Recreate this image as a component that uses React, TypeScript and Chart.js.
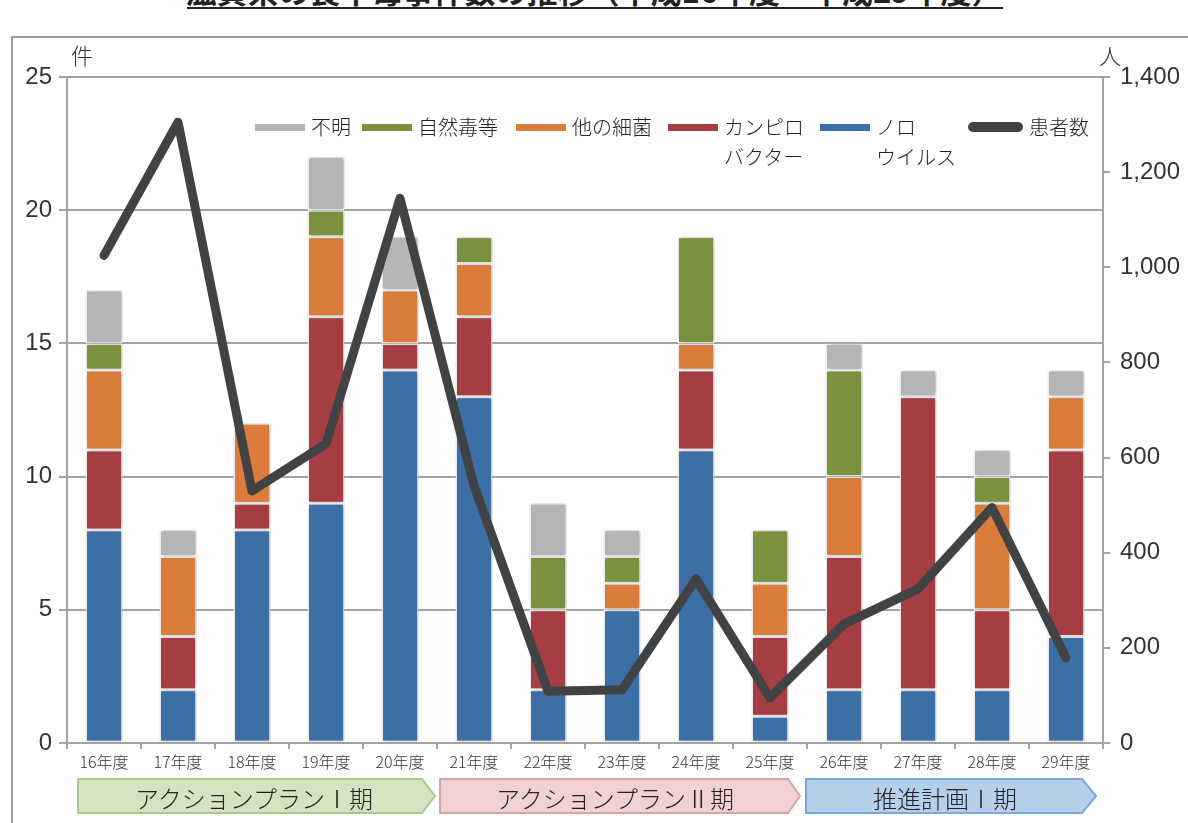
import React, { useEffect, useRef } from "react";
import { Chart, registerables } from "chart.js";

Chart.register(...registerables);

const categories = ["16年度", "17年度", "18年度", "19年度", "20年度", "21年度", "22年度", "23年度", "24年度", "25年度", "26年度", "27年度", "28年度", "29年度"];
const noro = [8, 2, 8, 9, 14, 13, 2, 5, 11, 1, 2, 2, 2, 4];
const campylobacter = [3, 2, 1, 7, 1, 3, 3, 0, 3, 3, 5, 11, 3, 7];
const otherBacteria = [3, 3, 3, 3, 2, 2, 0, 1, 1, 2, 3, 0, 4, 2];
const naturalToxin = [1, 0, 0, 1, 0, 1, 2, 1, 4, 2, 4, 0, 1, 0];
const unknown = [2, 1, 0, 2, 2, 0, 2, 1, 0, 0, 1, 1, 1, 1];
const patients = [1025, 1305, 530, 629, 1145, 541, 109, 112, 345, 95, 250, 324, 495, 179];

const leftTicks = [0, 5, 10, 15, 20, 25];
const rightTicks = [0, 200, 400, 600, 800, 1000, 1200, 1400];

const COLORS = {
  noro: "#3b6fa6",
  campy: "#a43e42",
  other: "#d97c3c",
  natural: "#7a913e",
  unknown: "#b4b5b7",
  line: "#404244",
  grid: "#a3a3a3",
};

const FONT = "'Noto Sans CJK JP', 'Noto Sans', sans-serif";
const NUMFONT = "'Liberation Sans', 'Noto Sans', sans-serif";

const shadowPlugin = {
  id: "barShadow",
  beforeDatasetDraw(chart: any, args: any) {
    if (args.meta.type === "bar") {
      const ctx = chart.ctx;
      ctx.save();
      ctx.shadowColor = "rgba(0,0,0,0.35)";
      ctx.shadowBlur = 4;
      ctx.shadowOffsetX = 1;
      ctx.shadowOffsetY = 0;
    }
  },
  afterDatasetDraw(chart: any, args: any) {
    if (args.meta.type === "bar") chart.ctx.restore();
  },
};

export default function App() {
  const ref = useRef<HTMLCanvasElement>(null);

  useEffect(() => {
    if (!ref.current) return;
    const bar = (label: string, data: number[], color: string) => ({
      type: "bar" as const,
      label,
      data,
      backgroundColor: color,
      borderColor: "#ffffff",
      borderWidth: 1.5,
      borderSkipped: false,
      yAxisID: "y",
      order: 1,
      barPercentage: 0.5,
      categoryPercentage: 1,
    });
    const chart = new Chart(ref.current, {
      type: "bar",
      data: {
        labels: categories,
        datasets: [
          {
            type: "line",
            label: "患者数",
            data: patients,
            yAxisID: "y1",
            borderColor: COLORS.line,
            backgroundColor: COLORS.line,
            borderWidth: 9,
            pointRadius: 0,
            borderCapStyle: "round",
            borderJoinStyle: "round",
            tension: 0,
            order: 0,
          } as any,
          bar("ノロウイルス", noro, COLORS.noro),
          bar("カンピロバクター", campylobacter, COLORS.campy),
          bar("他の細菌", otherBacteria, COLORS.other),
          bar("自然毒等", naturalToxin, COLORS.natural),
          bar("不明", unknown, COLORS.unknown),
        ],
      },
      options: {
        responsive: false,
        animation: false,
        devicePixelRatio: 1,
        layout: { padding: { top: 77, left: 0, right: 0, bottom: 0 } },
        plugins: { legend: { display: false }, tooltip: { enabled: false }, title: { display: false } },
        scales: {
          x: {
            stacked: true,
            offset: true,
            grid: { offset: true, drawOnChartArea: false, drawTicks: true, tickLength: 6, color: COLORS.grid, lineWidth: 2 },
            border: { display: true, color: COLORS.grid, width: 2 },
            ticks: { font: { family: FONT, size: 16, weight: 300 }, color: "#333", padding: 3, maxRotation: 0, autoSkip: false },
            afterFit: (s: any) => { s.height = 80; },
          },
          y: {
            stacked: true,
            position: "left",
            min: 0,
            max: 25,
            afterBuildTicks: (s: any) => { s.ticks = leftTicks.map((v) => ({ value: v })); },
            grid: { color: COLORS.grid, lineWidth: 2, tickLength: 8, drawTicks: true },
            border: { display: true, color: COLORS.grid, width: 2 },
            ticks: { font: { family: NUMFONT, size: 24 }, color: "#333", padding: 7 },
            afterFit: (s: any) => { s.width = 67; },
          },
          y1: {
            position: "right",
            min: 0,
            max: 1400,
            afterBuildTicks: (s: any) => { s.ticks = rightTicks.map((v) => ({ value: v })); },
            grid: { drawOnChartArea: false, color: COLORS.grid, lineWidth: 2, tickLength: 7, drawTicks: true },
            border: { display: true, color: COLORS.grid, width: 2 },
            ticks: {
              font: { family: NUMFONT, size: 24 },
              color: "#333",
              padding: 10,
              callback: (v: any) => Number(v).toLocaleString("en-US"),
            },
            afterFit: (s: any) => { s.width = 85; },
          },
        },
      } as any,
      plugins: [shadowPlugin],
    });
    return () => chart.destroy();
  }, []);

  const legendItems = [
    { x: 255, w: 50, color: COLORS.unknown, lines: ["不明"], h: 7 },
    { x: 362, w: 50, color: COLORS.natural, lines: ["自然毒等"], h: 7 },
    { x: 516, w: 50, color: COLORS.other, lines: ["他の細菌"], h: 7 },
    { x: 668, w: 50, color: COLORS.campy, lines: ["カンピロ", "バクター"], h: 7 },
    { x: 820, w: 50, color: COLORS.noro, lines: ["ノロ", "ウイルス"], h: 7 },
    { x: 968, w: 55, color: COLORS.line, lines: ["患者数"], h: 10 },
  ];

  const phases = [
    { x1: 78, x2: 422, tip: 435, fill: "#d4e3c2", stroke: "#a9c98b", text: "アクションプランⅠ期", cx: 254 },
    { x1: 440, x2: 788, tip: 800, fill: "#f1d1d1", stroke: "#dca3a5", text: "アクションプランⅡ期", cx: 615 },
    { x1: 806, x2: 1082, tip: 1096, fill: "#b6cfea", stroke: "#7ea8dc", text: "推進計画Ⅰ期", cx: 945 },
  ];

  return (
    <div style={{ position: "fixed", left: 0, top: 0, width: 1188, height: 823, overflow: "hidden", background: "#fff" }}>
      <div style={{ position: "absolute", left: 11, top: 36, width: 2, height: 800, background: "#9c9c9c" }} />
      <div style={{ position: "absolute", left: 11, top: 36, width: 1200, height: 2, background: "#9c9c9c" }} />
      <div
        style={{
          position: "absolute",
          left: 0,
          width: 1188,
          top: -26,
          height: 31,
          lineHeight: "31px",
          textAlign: "center",
          fontFamily: FONT,
          fontSize: 31,
          fontWeight: 700,
          color: "#222",
          whiteSpace: "nowrap",
        }}
      >
        滋賀県の食中毒事件数の推移（平成16年度～平成29年度）
      </div>
      <div style={{ position: "absolute", left: 187, top: 7, width: 816, height: 2, background: "#222" }} />
      <canvas ref={ref} width={1188} height={823} style={{ position: "absolute", left: 0, top: 0, width: 1188, height: 823 }} />
      <div style={{ position: "absolute", left: 71, top: 40, fontFamily: FONT, fontSize: 22, fontWeight: 300, lineHeight: "28px", color: "#333" }}>件</div>
      <div style={{ position: "absolute", left: 1099, top: 40, fontFamily: FONT, fontSize: 22, fontWeight: 300, lineHeight: "28px", color: "#333" }}>人</div>
      {legendItems.map((it, i) => (
        <React.Fragment key={i}>
          <div
            style={{
              position: "absolute",
              left: it.x,
              top: 127 - it.h / 2,
              width: it.w,
              height: it.h,
              background: it.color,
              borderRadius: it.h === 10 ? 5 : 0,
            }}
          />
          <div
            style={{
              position: "absolute",
              left: it.x + it.w + 6,
              top: 112,
              fontFamily: FONT,
              fontSize: 20,
              fontWeight: 300,
              lineHeight: "30px",
              color: "#222",
              whiteSpace: "nowrap",
            }}
          >
            {it.lines.map((l, j) => (
              <div key={j}>{l}</div>
            ))}
          </div>
        </React.Fragment>
      ))}
      <svg width={1188} height={823} style={{ position: "absolute", left: 0, top: 0 }}>
        {phases.map((p, i) => (
          <g key={i}>
            <polygon
              points={`${p.x1},779 ${p.x2},779 ${p.tip},796 ${p.x2},813 ${p.x1},813`}
              fill={p.fill}
              stroke={p.stroke}
              strokeWidth={2}
            />
            <text
              x={p.cx}
              y={797}
              textAnchor="middle"
              dominantBaseline="central"
              fontFamily={FONT}
              fontSize={24}
              fontWeight={300}
              fill="#222"
            >
              {p.text}
            </text>
          </g>
        ))}
      </svg>
    </div>
  );
}
